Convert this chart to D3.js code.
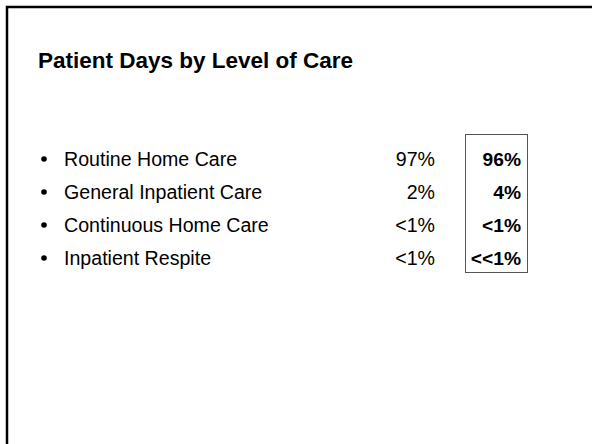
<!DOCTYPE html>
<html lang="en">
<head>
<meta charset="UTF-8">
<title>Patient Days by Level of Care</title>
<script src="https://d3js.org/d3.v7.min.js"></script>
<style>
  body { margin: 0; padding: 0; background: #fff; }
  svg { display: block; font-family: Arial, "Liberation Sans", sans-serif; }
</style>
</head>
<body>
<svg width="592" height="444"></svg>
<script>
  const title = "Patient Days by Level of Care";
  const categories = ["Routine Home Care", "General Inpatient Care", "Continuous Home Care", "Inpatient Respite"];
  const ownValues = ["97%", "2%", "<1%", "<1%"];
  const boxValues = ["96%", "4%", "<1%", "<<1%"];

  const svg = d3.select("svg"),
    width = +svg.attr("width"),
    height = +svg.attr("height");

  // cadre de la diapo (haut + gauche)
  svg.append("path")
    .attr("d", `M7,${height} V7 H${width}`)
    .attr("fill", "none")
    .attr("stroke", "#000")
    .attr("stroke-width", 2.5);

  svg.append("text")
    .attr("x", 38).attr("y", 68)
    .attr("font-size", 22.5).attr("font-weight", "bold")
    .text(title);

  // une bande par ligne, ligne de base en bas de bande
  const y = d3.scaleBand().domain(categories).range([133, 265]);
  const base = d => y(d) + y.bandwidth();

  const rows = svg.append("g").selectAll("g").data(categories).enter().append("g");

  rows.append("circle")
    .attr("cx", 44).attr("cy", d => base(d) - 7)
    .attr("r", 2.8).attr("fill", "#000");

  rows.append("text")
    .attr("x", 64).attr("y", base)
    .attr("font-size", 19.6)
    .text(d => d);

  rows.append("text")
    .attr("x", 435).attr("y", base)
    .attr("text-anchor", "end")
    .attr("font-size", 19.6)
    .text((d, i) => ownValues[i]);

  svg.append("rect")
    .attr("x", 465.5).attr("y", 134.5)
    .attr("width", 62).attr("height", 138)
    .attr("fill", "none").attr("stroke", "#555").attr("stroke-width", 1);

  rows.append("text")
    .attr("x", 521).attr("y", base)
    .attr("text-anchor", "end")
    .attr("font-size", 19.2).attr("font-weight", "bold")
    .text((d, i) => boxValues[i]);
</script>
</body>
</html>
